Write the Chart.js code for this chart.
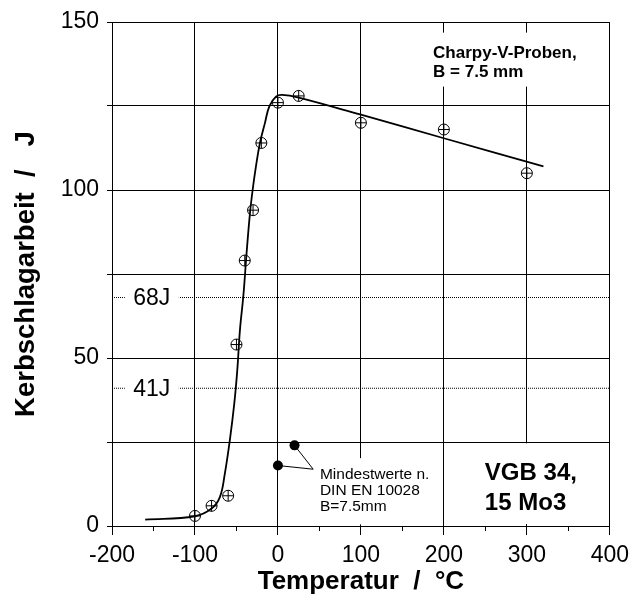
<!DOCTYPE html>
<html>
<head>
<meta charset="utf-8">
<script src="https://cdn.jsdelivr.net/npm/chart.js@4.4.1/dist/chart.umd.min.js"></script>
<style>
  html, body { margin: 0; padding: 0; background: #fff; }
  #wrap { width: 633px; height: 597px; }
</style>
</head>
<body>
<div id="wrap"><canvas id="chart" width="633" height="597"></canvas></div>
<script>
// Messwerte (Charpy-V, B = 7.5 mm)
const tempMess = [-100, -80, -60, -50, -40, -30, -20, 0, 25, 100, 200, 300];
const kvMess   = [3, 6, 9, 54, 79, 94, 114, 126, 128, 120, 118, 105];

// Ausgleichskurve
const tempKurve = [-160, -100, -80, -70, -64, -58, -52.6, -49, -45.8, -41.5, -37.8, -33.7, -30.5, -26.5, -21.7, -15.7, -10.4, -2.4, 5, 25, 100, 200, 320];
const kvKurve   = [1.9, 2.9, 5.2, 8.6, 15.6, 25.5, 36.5, 46.4, 58.3, 69, 81.2, 93.1, 100, 107, 114, 119.9, 124.9, 127.8, 128.3, 127.5, 122.4, 115.4, 107];

// Mindestwerte n. DIN EN 10028
const tempMin = [0, 20];
const kvMin   = [18, 24];

// Grenzlinien 68 J / 41 J
const grenzWerte = [68, 41];
const grenzTexte = ['68J', '41J'];

// Achsen
const xMin = -200, xMax = 400, xStep = 100;
const yMin = 0, yMax = 150, yStep = 25;
const xMinorTicks = [-150, -50, 50, 150, 250, 350];

const FONT = "'Liberation Sans', Arial, sans-serif";

const toXY = (xs, ys) => xs.map((x, i) => ({ x: x, y: ys[i] }));

// Texte, Boxen, Nebenstriche
const beschriftung = {
    id: 'beschriftung',
    afterDatasetsDraw(chart) {
        const ctx = chart.ctx;
        const xs = chart.scales.x, ys = chart.scales.y;
        const px = v => xs.getPixelForValue(v);
        const py = v => ys.getPixelForValue(v);
        ctx.save();

        // 68J / 41J
        ctx.font = '23px ' + FONT;
        ctx.textAlign = 'center';
        ctx.textBaseline = 'middle';
        grenzWerte.forEach((w, i) => {
            const cx = px(-152);
            const cy = py(w);
            ctx.fillStyle = '#fff';
            ctx.fillRect(cx - 27, cy - 10, 54, 20);
            ctx.fillStyle = '#000';
            ctx.fillText(grenzTexte[i], cx, cy + 1);
        });

        ctx.textAlign = 'left';
        ctx.textBaseline = 'alphabetic';

        // Charpy-V-Proben
        let x0 = px(187), y0 = py(139.4);
        ctx.fillStyle = '#fff';
        ctx.fillRect(x0 - 5, y0 - 25, 172, 54);
        ctx.fillStyle = '#000';
        ctx.font = 'bold 17px ' + FONT;
        ctx.fillText('Charpy-V-Proben,', x0, y0);
        ctx.fillText('B = 7.5 mm', x0, y0 + 19);

        // Mindestwerte
        x0 = px(50.6); y0 = py(14);
        ctx.fillStyle = '#fff';
        ctx.fillRect(x0 - 4, py(20.2), 122, py(0.5) - py(20.2));
        ctx.fillStyle = '#000';
        ctx.font = '15.5px ' + FONT;
        ctx.fillText('Mindestwerte n.', x0, y0);
        ctx.fillText('DIN EN 10028', x0, y0 + 16);
        ctx.fillText('B=7.5mm', x0, y0 + 32);

        // VGB 34, 15 Mo3
        x0 = px(249.4); y0 = py(13.6);
        ctx.fillStyle = '#fff';
        ctx.fillRect(x0 - 5, py(24.6), 112, py(0.6) - py(24.6));
        ctx.fillStyle = '#000';
        ctx.font = 'bold 24px ' + FONT;
        ctx.fillText('VGB 34,', x0, y0);
        ctx.fillText('15 Mo3', x0, y0 + 30);

        // Nebenstriche der x-Achse
        ctx.strokeStyle = '#000';
        ctx.lineWidth = 1;
        ctx.beginPath();
        xMinorTicks.forEach(t => {
            const x = Math.round(px(t)) + 0.5;
            ctx.moveTo(x, ys.bottom);
            ctx.lineTo(x, ys.bottom + 5);
        });
        ctx.stroke();
        ctx.restore();
    }
};

const grenzDatasets = grenzWerte.map(w => ({
    type: 'line',
    data: [{ x: xMin, y: w }, { x: xMax, y: w }],
    borderColor: '#000',
    borderWidth: 1,
    borderDash: [1, 1],
    pointRadius: 0,
    showLine: true
}));

new Chart(document.getElementById('chart'), {
    type: 'scatter',
    data: {
        datasets: [{
            // Messwerte: Kreis + Kreuz
            label: 'Messwerte',
            data: toXY(tempMess, kvMess),
            pointStyle: 'cross',
            pointRadius: 5.5,
            borderColor: '#000',
            borderWidth: 1
        }, {
            data: toXY(tempMess, kvMess),
            pointStyle: 'circle',
            pointRadius: 5.5,
            borderColor: '#000',
            backgroundColor: 'rgba(0,0,0,0)',
            borderWidth: 1
        }, {
            label: 'Mindestwerte',
            data: toXY(tempMin, kvMin),
            pointStyle: 'circle',
            pointRadius: 5,
            backgroundColor: '#000',
            borderColor: '#000',
            borderWidth: 0
        }, {
            // Hinweislinien zum Text
            data: [{ x: tempMin[0], y: kvMin[0] }, { x: 42.5, y: 16.9 }, { x: tempMin[1], y: kvMin[1] }],
            showLine: true,
            borderColor: '#000',
            borderWidth: 1,
            pointRadius: 0
        }, {
            label: 'Kurve',
            data: toXY(tempKurve, kvKurve),
            showLine: true,
            tension: 0.4,
            borderColor: '#000',
            borderWidth: 1.8,
            pointRadius: 0
        }, ...grenzDatasets]
    },
    options: {
        responsive: false,
        animation: false,
        layout: { padding: { top: 22, right: 23, left: 0, bottom: 0 } },
        plugins: {
            legend: { display: false },
            tooltip: { enabled: false }
        },
        scales: {
            x: {
                type: 'linear',
                min: xMin, max: xMax,
                afterFit: s => { s.height = 71; },
                ticks: {
                    stepSize: xStep,
                    color: '#000',
                    padding: 4,
                    font: { family: FONT, size: 23, lineHeight: 1.45 },
                    maxRotation: 0
                },
                grid: { color: '#000', lineWidth: 1, tickLength: 9, tickColor: '#000' },
                border: { color: '#000', width: 1 },
                title: {
                    display: true,
                    text: 'Temperatur  /  °C',
                    color: '#000',
                    font: { family: FONT, size: 26, weight: 'bold' },
                    padding: { top: 0, bottom: 0 }
                }
            },
            y: {
                type: 'linear',
                min: yMin, max: yMax,
                afterFit: s => { s.width = 112; },
                ticks: {
                    stepSize: yStep,
                    color: '#000',
                    padding: 8,
                    font: { family: FONT, size: 23 },
                    callback: v => (v % 50 === 0 ? v : '')
                },
                grid: { color: '#000', lineWidth: 1, tickLength: 5, tickColor: '#000' },
                border: { color: '#000', width: 1 },
                title: {
                    display: true,
                    text: 'Kerbschlagarbeit  /   J',
                    color: '#000',
                    font: { family: FONT, size: 27.5, weight: 'bold' },
                    padding: { top: 10, bottom: 0 }
                }
            }
        }
    },
    plugins: [beschriftung]
});
</script>
</body>
</html>
